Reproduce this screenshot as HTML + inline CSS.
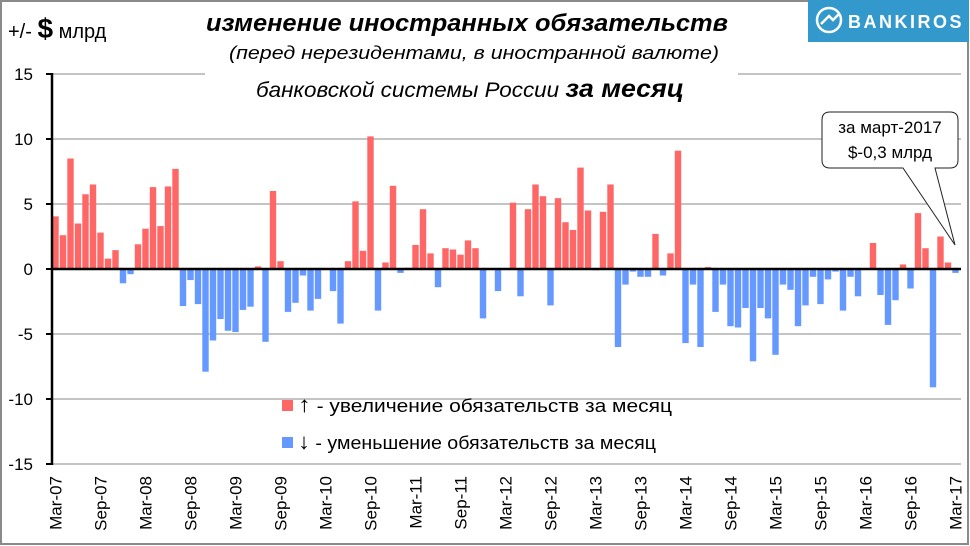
<!DOCTYPE html>
<html><head><meta charset="utf-8"><style>
html,body{margin:0;padding:0;background:#fff}
svg{display:block;font-family:"Liberation Sans","DejaVu Sans",sans-serif}
</style></head><body>
<svg id="chart" width="970" height="546" viewBox="0 0 970 546">
<rect x="1" y="1" width="967" height="543" fill="#fff" stroke="#8a8a8a" stroke-width="2"/>
<g id="grid"></g>
<g id="bars"></g>
<g id="axes"></g>
<rect x="205" y="4" width="533" height="100" fill="#fff"/>
<text x="8" y="38" font-size="20">+/- <tspan font-size="28" font-weight="bold">$</tspan> млрд</text>
<text x="467" y="31" font-size="24" font-weight="bold" font-style="italic" text-anchor="middle" textLength="522" lengthAdjust="spacingAndGlyphs">изменение иностранных обязательств</text>
<text x="474" y="59" font-size="18" font-style="italic" text-anchor="middle" textLength="490" lengthAdjust="spacingAndGlyphs">(перед нерезидентами, в иностранной валюте)</text>
<text x="470" y="97" font-size="21" font-style="italic" text-anchor="middle" textLength="428" lengthAdjust="spacingAndGlyphs">банковской системы России <tspan font-size="25" font-weight="bold">за месяц</tspan></text>
<g>
<rect x="808" y="0" width="161" height="42" fill="#3399cc"/>
<circle cx="829" cy="20" r="12" fill="none" stroke="#fff" stroke-width="2.5"/>
<path d="M821 24 L829 16 L833 20 L839 14" fill="none" stroke="#fff" stroke-width="2.5"/>
<text x="848" y="28" font-size="18" font-weight="bold" fill="#fff" letter-spacing="2.5">BANKIROS</text>
</g>
<g>
<path d="M830 112 H950 Q958 112 958 120 V160 Q958 168 950 168 H935 L955 245 L903 168 H830 Q822 168 822 160 V120 Q822 112 830 112 Z" fill="#fff" stroke="#222" stroke-width="1"/>
<text x="890" y="133" font-size="17" text-anchor="middle">за март-2017</text>
<text x="890" y="158" font-size="17" text-anchor="middle">$-0,3 млрд</text>
</g>
<g>
<rect x="282" y="400" width="11" height="11" fill="#ff6666"/>
<text x="298" y="412" font-size="18" textLength="374" lengthAdjust="spacingAndGlyphs"><tspan font-size="22">↑</tspan> - увеличение обязательств за месяц</text>
<rect x="282" y="437" width="11" height="11" fill="#6699ff"/>
<text x="298" y="449" font-size="18" textLength="358" lengthAdjust="spacingAndGlyphs"><tspan font-size="22">↓</tspan> - уменьшение обязательств за месяц</text>
</g>
</svg>
<script>
const values = [4.05,2.6,8.5,3.5,5.75,6.5,2.8,0.8,1.45,-1.1,-0.4,1.9,3.1,6.3,3.3,6.35,7.7,-2.85,-0.85,-2.7,-7.9,-5.5,-3.85,-4.75,-4.85,-3.15,-2.9,0.2,-5.6,6.0,
0.6,-3.3,-2.6,-0.5,-3.2,-2.3,0,-1.7,-4.2,0.6,5.2,1.4,10.2,-3.2,0.5,6.4,-0.3,0.1,1.85,4.6,1.2,-1.4,1.6,1.5,1.1,2.2,1.6,-3.8,0,-1.7,
0,5.1,-2.1,4.6,6.5,5.6,-2.8,5.45,3.6,3.0,7.8,4.5,-0.1,4.4,6.5,-6.0,-1.2,-0.2,-0.6,-0.6,2.7,-0.5,1.2,9.1,-5.7,-1.2,-6.0,0.15,-3.3,-1.2,
-4.4,-4.5,-3.0,-7.1,-3.0,-3.8,-6.6,-1.2,-1.6,-4.4,-2.8,-0.6,-2.7,-0.8,-0.2,-3.2,-0.6,-2.1,0,2.0,-2.0,-4.3,-2.4,0.35,-1.5,4.3,1.6,-9.1,2.5,0.5,-0.3];
const yTicks = [15,10,5,0,-5,-10,-15];
const monthNames = ["Mar","Sep"];
const startYear = 2007;

const NS="http://www.w3.org/2000/svg";
const X0=55.5, STEP=7.5, Y0=269, UNIT=13;
const xPos = i => X0 + i*STEP;
const yPos = v => Y0 - v*UNIT;
function mk(tag, attrs, parent){const e=document.createElementNS(NS,tag);for(const k in attrs)e.setAttribute(k,attrs[k]);parent.appendChild(e);return e;}
const grid=document.getElementById('grid'), bars=document.getElementById('bars'), axes=document.getElementById('axes');
yTicks.forEach(t=>{
  if(t!==0){
    const g=mk('line',{x1:52,x2:961,y1:yPos(t),y2:yPos(t),stroke:'#a0a0a0','stroke-width':1.3},grid);
    
    
  }
  const tk=mk('line',{x1:46,x2:52,y1:yPos(t),y2:yPos(t),stroke:'#000','stroke-width':2},axes);
  
  
  const lb=mk('text',{x:33,y:yPos(t)+6,'font-size':17,'text-anchor':'end'},axes);
  lb.textContent=String(t);
  
  
});
values.forEach((v,i)=>{
  const y=Math.min(yPos(v),Y0), h=Math.abs(v)*UNIT;
  const r=mk('rect',{x:xPos(i)-3.2,y:y,width:6.4,height:h,fill:v>=0?'#ff6666':'#6699ff'},bars);
  
  
});
const ya=mk('line',{x1:52,x2:52,y1:yPos(15)-1,y2:yPos(-15)+1,stroke:'#000','stroke-width':2.5},axes);


const xa=mk('line',{x1:52,x2:961,y1:Y0,y2:Y0,stroke:'#000','stroke-width':2.5},axes);


for(let i=0;i<values.length;i+=6){
  const yr=startYear+Math.floor((i+2)/12);
  const lbl=monthNames[(i/6)%2]+'-'+String(yr%100).padStart(2,'0');
  const x=xPos(i)+6;
  const t=mk('text',{x:x,y:476,'font-size':17,'text-anchor':'end',transform:`rotate(-90 ${x} 476)`},axes);
  t.textContent=lbl;
  
  
}
</script>
</body></html>
